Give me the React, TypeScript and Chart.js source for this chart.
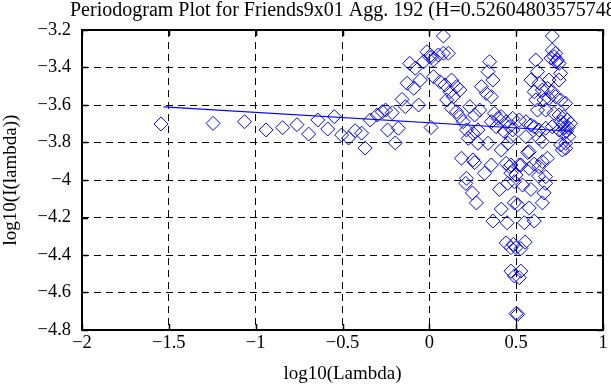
import React, { useEffect, useRef } from "react";
import { Chart, registerables } from "chart.js";

Chart.register(...registerables);

const TITLE = "Periodogram Plot for Friends9x01 Agg. 192 (H=0.52604803575748)";
const X_TITLE = "log10(Lambda)";
const Y_TITLE = "log10(I(lambda))";

const xTickValues = [-2, -1.5, -1, -0.5, 0, 0.5, 1];
const xTickLabels = ["\u22122", "\u22121.5", "\u22121", "\u22120.5", "0", "0.5", "1"];
const yTickValues = [-4.8, -4.6, -4.4, -4.2, -4, -3.8, -3.6, -3.4, -3.2];
const yTickLabels = ["\u22124.8", "\u22124.6", "\u22124.4", "\u22124.2", "\u22124", "\u22123.8", "\u22123.6", "\u22123.4", "\u22123.2"];

// periodogram points: log10(lambda)
const pointX = [
  -1.545, -1.245, -1.064, -0.94, -0.845, -0.762, -0.695, -0.642, -0.585, -0.547,
  -0.505, -0.465, -0.427, -0.39, -0.37, -0.34, -0.3, -0.271, -0.252, -0.214,
  -0.24, -0.178, -0.196, -0.157, -0.138, -0.062, -0.128, -0.09, -0.052, -0.113,
  -0.081, -0.033, -0.014, 0.014, 0.024, 0.0, 0.024, 0.052, 0.081, 0.11,
  0.081, 0.062, 0.09, 0.128, 0.157, 0.176, 0.119, 0.138, 0.1, 0.128,
  0.157, 0.176, 0.195, 0.233, 0.261, 0.29, 0.214, 0.224, 0.252, 0.28,
  0.28, 0.338, 0.347, 0.338, 0.366, 0.3, 0.328, 0.357, 0.375, 0.395,
  0.414, 0.442, 0.461, 0.432, 0.47, 0.385, 0.357, 0.414, 0.185, 0.252,
  0.357, 0.318, 0.442, 0.47, 0.214, 0.01,
  0.708, 0.708, 0.727, 0.718, 0.737, 0.747, 0.613, 0.623, 0.585, 0.632,
  0.689, 0.747, 0.756, 0.651, 0.68, 0.708, 0.604, 0.613, 0.66, 0.689,
  0.727, 0.756, 0.785, 0.623, 0.67, 0.718, 0.747, 0.775, 0.794, 0.813,
  0.48, 0.518, 0.556, 0.585, 0.604, 0.48, 0.632, 0.67, 0.708, 0.747,
  0.775, 0.803, 0.785, 0.556, 0.632, 0.651, 0.756, 0.785, 0.575, 0.452,
  0.461, 0.518, 0.575, 0.651, 0.68, 0.632, 0.499, 0.67,
  0.566, 0.766, 0.261, 0.47, 0.527, 0.604, 0.629, 0.21, 0.452, 0.49,
  0.537, 0.404, 0.585, 0.67, 0.248, 0.271, 0.661, 0.651, 0.414, 0.49,
  0.509, 0.575, 0.366, 0.448, 0.547, 0.604, 0.442, 0.552, 0.47, 0.499,
  0.527, 0.484, 0.47, 0.527, 0.49, 0.518, 0.499, 0.509,
  0.7, 0.73, 0.78, 0.79, 0.77, 0.8, 0.76,
];
// periodogram points: log10(I(lambda))
const pointY = [
  -3.701, -3.698, -3.689, -3.733, -3.721, -3.705, -3.755, -3.68, -3.728, -3.662,
  -3.76, -3.776, -3.737, -3.75, -3.83, -3.68, -3.653, -3.636, -3.627, -3.641,
  -3.733, -3.724, -3.802, -3.57, -3.609, -3.6, -3.484, -3.511, -3.467, -3.378,
  -3.404, -3.369, -3.316, -3.342, -3.449, -3.342, -3.36, -3.333, -3.324, -3.324,
  -3.232, -3.476, -3.493, -3.467, -3.502, -3.52, -3.529, -3.556, -3.573, -3.618,
  -3.636, -3.662, -3.689, -3.609, -3.653, -3.627, -3.733, -3.778, -3.751, -3.733,
  -3.804, -3.804, -3.369, -3.422, -3.467, -3.502, -3.538, -3.556, -3.644, -3.671,
  -3.662, -3.689, -3.716, -3.742, -3.769, -3.716, -3.689, -3.84, -3.884, -3.893,
  -3.92, -3.964, -3.911, -3.964, -3.991, -3.72,
  -3.232, -3.307, -3.324, -3.342, -3.36, -3.378, -3.36, -3.422, -3.467, -3.484,
  -3.467, -3.467, -3.431, -3.52, -3.511, -3.529, -3.529, -3.573, -3.573, -3.564,
  -3.556, -3.573, -3.591, -3.627, -3.627, -3.644, -3.653, -3.662, -3.68, -3.698,
  -3.671, -3.68, -3.689, -3.707, -3.716, -3.733, -3.733, -3.724, -3.716, -3.733,
  -3.751, -3.769, -3.804, -3.769, -3.778, -3.796, -3.813, -3.831, -3.849, -3.804,
  -3.929, -3.92, -3.938, -3.902, -3.884, -3.929, -3.973, -3.982,
  -3.853, -3.84, -3.907, -3.92, -3.92, -3.915, -3.979, -4.018, -4.018, -4.009,
  -4.027, -4.05, -4.05, -4.018, -4.069, -4.122, -4.069, -4.122, -4.155, -4.122,
  -4.131, -4.149, -4.219, -4.228, -4.228, -4.219, -4.335, -4.331, -4.361, -4.361,
  -4.366, -4.343, -4.486, -4.486, -4.512, -4.521, -4.713, -4.716,
  -3.35, -3.37, -3.72, -3.74, -3.7, -3.72, -3.69,
];

// least-squares fit line end points
const fitX = [-1.53, 0.82];
const fitY = [-3.61, -3.74];

const BLUE = "#0000ff";
const FONT = '"Liberation Serif", "Times New Roman", serif';

const framePlugin = {
  id: "frameAndTitle",
  afterDraw(chart: any) {
    const { ctx, chartArea: a, scales } = chart;
    ctx.save();
    ctx.strokeStyle = "#000";
    ctx.lineWidth = 1.5;
    ctx.beginPath();
    xTickValues.forEach((v) => {
      const px = Math.round(scales.x.getPixelForValue(v)) + 0.5;
      ctx.moveTo(px, a.top);
      ctx.lineTo(px, a.top + 6);
      ctx.moveTo(px, a.bottom);
      ctx.lineTo(px, a.bottom - 6);
    });
    yTickValues.forEach((v) => {
      const py = Math.round(scales.y.getPixelForValue(v)) + 0.5;
      ctx.moveTo(a.left, py);
      ctx.lineTo(a.left + 6, py);
      ctx.moveTo(a.right, py);
      ctx.lineTo(a.right - 6, py);
    });
    ctx.stroke();
    ctx.lineWidth = 2;
    ctx.strokeRect(a.left, a.top, a.right - a.left, a.bottom - a.top);
    ctx.fillStyle = "#000";
    ctx.font = "20px " + FONT;
    ctx.textAlign = "left";
    ctx.textBaseline = "alphabetic";
    ctx.fillText(TITLE, 70, 16);
    ctx.restore();
  },
};

export default function App() {
  const ref = useRef<HTMLCanvasElement | null>(null);

  useEffect(() => {
    document.body.style.margin = "0";
    if (!ref.current) return;
    const scatter = pointX.map((x, i) => ({ x, y: pointY[i] }));
    const fit = fitX.map((x, i) => ({ x, y: fitY[i] }));
    const chart = new Chart(ref.current, {
      type: "scatter",
      data: {
        datasets: [
          {
            type: "scatter",
            data: scatter,
            pointStyle: "rectRot",
            pointRadius: 7,
            pointBorderWidth: 1,
            borderColor: BLUE,
            backgroundColor: "rgba(0,0,0,0)",
            pointBackgroundColor: "rgba(0,0,0,0)",
            pointBorderColor: BLUE,
          },
          {
            type: "line",
            data: fit,
            borderColor: BLUE,
            borderWidth: 1.2,
            pointRadius: 0,
            fill: false,
            showLine: true,
          },
        ],
      },
      options: {
        responsive: false,
        animation: false,
        layout: { padding: { top: 30, right: 3, left: 0, bottom: 0 } },
        plugins: {
          legend: { display: false },
          tooltip: { enabled: false },
          title: { display: false },
        },
        scales: {
          x: {
            type: "linear",
            min: -2,
            max: 1,
            afterBuildTicks: (s: any) => {
              s.ticks = xTickValues.map((v) => ({ value: v }));
            },
            afterFit: (s: any) => {
              s.height = 55;
            },
            ticks: {
              color: "#000",
              font: { family: FONT, size: 18.5 },
              padding: 2,
              maxRotation: 0,
              autoSkip: false,
              callback: (v: any) => {
                const i = xTickValues.findIndex((t) => Math.abs(t - v) < 1e-6);
                return i >= 0 ? xTickLabels[i] : "";
              },
            },
            grid: { color: "#000", lineWidth: 1, drawTicks: false },
            border: { display: false, dash: [7, 5] },
            title: {
              display: true,
              text: X_TITLE,
              color: "#000",
              font: { family: FONT, size: 19 },
              padding: { top: 0, bottom: 0 },
            },
          },
          y: {
            type: "linear",
            min: -4.8,
            max: -3.2,
            afterBuildTicks: (s: any) => {
              s.ticks = yTickValues.map((v) => ({ value: v }));
            },
            afterFit: (s: any) => {
              s.width = 82;
            },
            ticks: {
              color: "#000",
              font: { family: FONT, size: 18.5 },
              padding: 11,
              autoSkip: false,
              callback: (v: any) => {
                const i = yTickValues.findIndex((t) => Math.abs(t - v) < 1e-6);
                return i >= 0 ? yTickLabels[i] : "";
              },
            },
            grid: { color: "#000", lineWidth: 1, drawTicks: false },
            border: { display: false, dash: [7, 5] },
            title: {
              display: true,
              text: Y_TITLE,
              color: "#000",
              font: { family: FONT, size: 19 },
              padding: { top: 0, bottom: 0 },
            },
          },
        },
      },
      plugins: [framePlugin],
    });
    return () => chart.destroy();
  }, []);

  return (
    <div style={{ width: 611, height: 385, background: "#fff" }}>
      <canvas ref={ref} width={611} height={385} style={{ display: "block" }} />
    </div>
  );
}
